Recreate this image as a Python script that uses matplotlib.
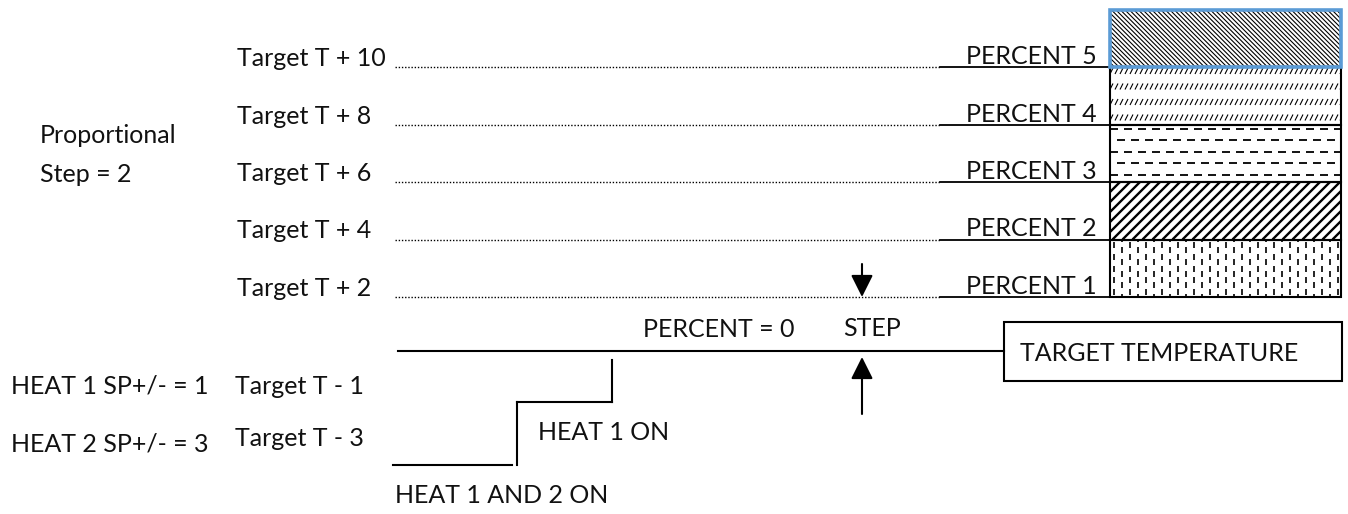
import numpy as np
import matplotlib.pyplot as plt
from matplotlib.patches import Rectangle
from matplotlib.collections import LineCollection

# data
offsets = [10, 8, 6, 4, 2]          # Target T + n levels
percent_steps = [5, 4, 3, 2, 1]     # PERCENT n band sitting on each level
heat_setpoints = [1, 3]             # HEAT 1 / HEAT 2 SP+/-
prop_step = 2

plt.rcParams['font.family'] = ['Lato', 'DejaVu Sans']
FS = 18
TXT = '#111111'

fig = plt.figure(figsize=(13.48, 5.14), dpi=100)
ax = fig.add_axes([0, 0, 1, 1])
ax.set_xlim(0, 1348)
ax.set_ylim(514, 0)
ax.axis('off')

# layout helpers (pixel space)
TARGET_Y = 351


def level_y(off):
    return 297 - (off - 2) * 28.75


def heat_y(sp):
    return 402 + (sp - 1) * 31.5


BOX_X0, BOX_X1 = 1110, 1341


def hatch(segs, clip, lw=0.8, ls='solid'):
    lc = LineCollection(segs, colors='black', linewidths=lw, linestyles=ls)
    ax.add_collection(lc)
    lc.set_clip_path(clip)


def fill_pattern(k, top, bot, clip):
    h = bot - top
    segs = []
    if k == 5:
        for x in np.arange(BOX_X0 - h, BOX_X1 + 5, 4.5):
            segs.append([(x, top), (x + h, bot)])
        hatch(segs, clip, lw=0.8)
    elif k == 4:
        for ry in np.arange(top + 4, bot, 15.5):
            for x in np.arange(BOX_X0, BOX_X1 + 5, 5):
                segs.append([(x, ry + 3), (x + 3, ry - 3)])
        hatch(segs, clip, lw=0.8)
    elif k == 3:
        for i, ry in enumerate(np.arange(top + 4, bot, 11.5)):
            shift = 0 if i % 2 == 0 else 7
            for x in np.arange(BOX_X0 + shift - 14, BOX_X1 + 5, 14):
                segs.append([(x, ry), (x + 8, ry)])
        hatch(segs, clip, lw=1.3)
    elif k == 2:
        for x in np.arange(BOX_X0 - h, BOX_X1 + 10, 10):
            segs.append([(x, bot), (x + h, top)])
        hatch(segs, clip, lw=1.7)
    elif k == 1:
        for j, x in enumerate(np.arange(BOX_X0 + 4, BOX_X1, 8)):
            shift = 0 if j % 2 == 0 else 5
            for y in np.arange(top + 3 + shift - 12, bot, 11.7):
                segs.append([(x, y), (x, y + 6)])
        hatch(segs, clip, lw=1.2)


# proportional levels
for off, k in zip(offsets, percent_steps):
    y = level_y(off)
    ax.text(237, y - 1, f'Target T + {off}', fontsize=FS, color=TXT, va='baseline')
    ax.plot([395, 940], [y, y], color='black', lw=1, ls=(0, (1, 1.3)))
    ax.plot([940, BOX_X0], [y, y], color='black', lw=1.3)
    ax.text(1097, y - 3, f'PERCENT {k}', fontsize=FS, color=TXT, va='baseline', ha='right')

    top, bot = level_y(off + prop_step), y
    edge = '#5b9bd5' if k == 5 else 'black'
    elw = 2.6 if k == 5 else 1.5
    rect = Rectangle((BOX_X0, top), BOX_X1 - BOX_X0, bot - top, facecolor='white',
                     edgecolor='none', zorder=1)
    ax.add_patch(rect)
    fill_pattern(k, top, bot, rect)
    ax.add_patch(Rectangle((BOX_X0, top), BOX_X1 - BOX_X0, bot - top, facecolor='none',
                           edgecolor=edge, lw=elw, zorder=5 + (k == 5)))

ax.text(40, 143, 'Proportional', fontsize=FS, color=TXT, va='baseline')
ax.text(40, 182, f'Step = {prop_step}', fontsize=FS, color=TXT, va='baseline')

# target temperature line and box
ax.plot([398, 1004], [TARGET_Y, TARGET_Y], color='black', lw=1.5)
ax.add_patch(Rectangle((1004, 322), 1342 - 1004, 381 - 322, facecolor='white',
                       edgecolor='black', lw=1.5))
ax.text(1020, 361, 'TARGET TEMPERATURE', fontsize=FS, color=TXT, va='baseline')
ax.text(643, 337, 'PERCENT = 0', fontsize=FS, color=TXT, va='baseline')
ax.text(843, 336, 'STEP', fontsize=FS, color=TXT, va='baseline')

# step arrows
arw = dict(arrowstyle='-|>,head_length=0.9,head_width=0.45', color='black', lw=1.5,
           mutation_scale=15, shrinkA=0, shrinkB=0)
ax.annotate('', xy=(862, level_y(2)), xytext=(862, 264), arrowprops=arw)
ax.annotate('', xy=(862, TARGET_Y + 6), xytext=(862, 414), arrowprops=arw)

# heat staircase
h1, h2 = heat_y(heat_setpoints[0]), heat_y(heat_setpoints[1])
ax.plot([612, 612], [360, h1], color='black', lw=1.5)
ax.plot([517, 612], [h1, h1], color='black', lw=1.5)
ax.plot([517, 517], [h1, h2], color='black', lw=1.5)
ax.plot([393, 512], [h2, h2], color='black', lw=1.5)

ax.text(11, h1 - 9, f'HEAT 1 SP+/- = {heat_setpoints[0]}', fontsize=FS, color=TXT, va='baseline')
ax.text(11, h2 - 14, f'HEAT 2 SP+/- = {heat_setpoints[1]}', fontsize=FS, color=TXT, va='baseline')
ax.text(235, h1 - 8, f'Target T - {heat_setpoints[0]}', fontsize=FS, color=TXT, va='baseline')
ax.text(235, h2 - 19, f'Target T - {heat_setpoints[1]}', fontsize=FS, color=TXT, va='baseline')
ax.text(538, 440, 'HEAT 1 ON', fontsize=FS, color=TXT, va='baseline')
ax.text(395, 503, 'HEAT 1 AND 2 ON', fontsize=FS, color=TXT, va='baseline')

fig.savefig('out.png', dpi=100)
